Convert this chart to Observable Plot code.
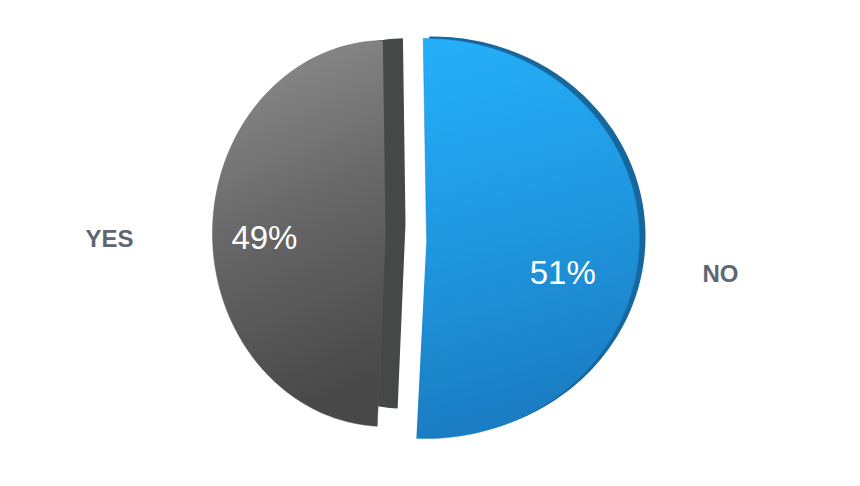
<!DOCTYPE html>
<html>
<head>
<meta charset="utf-8">
<script src="https://cdn.jsdelivr.net/npm/d3@7"></script>
<script src="https://cdn.jsdelivr.net/npm/@observablehq/plot@0.6"></script>
<style>
  html, body { margin: 0; padding: 0; background: #fff; }
  #chart { width: 860px; height: 486px; }
</style>
</head>
<body>
<div id="chart"></div>
<script>
// ---- data ----
const categories = ["NO", "YES"];
const values = [51, 49];
const valueLabels = ["51%", "49%"];

// ---- layout (per slice, pixel units of the 860x486 frame) ----
const rot = -0.0154; // slight rotation of the pie
const layout = {
  NO:  {cx: 426, cy: 238, rx: 213, ry: 200, ddx: 6,  ddy: -2,  ds: 1.0,  lr: 0.64, ldy: 33, outX: 720, face: "url(#gNO)",  side: "#17679f"},
  YES: {cx: 385, cy: 233, rx: 173, ry: 193, ddx: 20, ddy: -10, ds: 0.96, lr: 0.70, ldy: 7,  outX: 109, face: "url(#gYES)", side: "#464747"}
};

const pie = d3.pie().sort(null).startAngle(rot).endAngle(rot + 2 * Math.PI)(values);
const N = 120;

function slicePoints(a0, a1, L, dx, dy, s, key) {
  const cx = L.cx + dx, cy = L.cy + dy, rx = L.rx * s, ry = L.ry * s;
  const pts = [{x: cx, y: cy, k: key}];
  for (let i = 0; i <= N; i++) {
    const a = a0 + (a1 - a0) * i / N;
    pts.push({x: cx + rx * Math.sin(a), y: cy - ry * Math.cos(a), k: key});
  }
  return pts;
}

const sides = [], faces = [], inner = [], outer = [];
pie.forEach((p, i) => {
  const c = categories[i];
  const L = layout[c];
  sides.push({c, pts: slicePoints(p.startAngle, p.endAngle, L, L.ddx, L.ddy, L.ds, c + "-side")});
  faces.push({c, pts: slicePoints(p.startAngle, p.endAngle, L, 0, 0, 1, c + "-face")});
  const mid = (p.startAngle + p.endAngle) / 2;
  const lx = L.cx + L.lr * L.rx * Math.sin(mid);
  const ly = L.cy - L.lr * L.ry * Math.cos(mid) + L.ldy;
  inner.push({x: lx, y: ly, t: valueLabels[i]});
  outer.push({x: L.outX, y: ly + 1, t: c});
});

const defs = () => {
  const d = d3.create("svg:defs");
  const g1 = d.append("linearGradient").attr("id", "gNO").attr("x1", 0).attr("y1", 0).attr("x2", 0.15).attr("y2", 1);
  g1.append("stop").attr("offset", "0%").attr("stop-color", "#25b0fb");
  g1.append("stop").attr("offset", "55%").attr("stop-color", "#1f96de");
  g1.append("stop").attr("offset", "100%").attr("stop-color", "#1a7cc2");
  const g2 = d.append("linearGradient").attr("id", "gYES").attr("x1", 0.1).attr("y1", 0).attr("x2", 0.3).attr("y2", 1);
  g2.append("stop").attr("offset", "0%").attr("stop-color", "#8f8f8f");
  g2.append("stop").attr("offset", "50%").attr("stop-color", "#676767");
  g2.append("stop").attr("offset", "100%").attr("stop-color", "#484848");
  return d.node();
};

const marks = [defs];
for (const c of ["NO", "YES"]) {
  const L = layout[c];
  const s = sides.find(d => d.c === c);
  const f = faces.find(d => d.c === c);
  marks.push(Plot.line(s.pts, {x: "x", y: "y", fill: L.side, stroke: "none"}));
  marks.push(Plot.line(f.pts, {x: "x", y: "y", fill: L.face, stroke: c === "NO" ? "#1b80c4" : "#5a5a5a", strokeWidth: 0.8, strokeOpacity: 0.6}));
}
marks.push(Plot.text(inner, {x: "x", y: "y", text: "t", fill: "white", fontSize: 33, fontFamily: "Liberation Sans, Arial, sans-serif", fontWeight: 300}));
marks.push(Plot.text(outer, {x: "x", y: "y", text: "t", fill: "#5f666f", fontSize: 24, fontWeight: "bold", fontFamily: "Liberation Sans, Arial, sans-serif"}));

const chart = Plot.plot({
  width: 860,
  height: 486,
  margin: 0,
  x: {domain: [0, 860], range: [0, 860], axis: null},
  y: {domain: [0, 486], range: [0, 486], axis: null},
  marks
});
document.getElementById("chart").appendChild(chart);
</script>
</body>
</html>
